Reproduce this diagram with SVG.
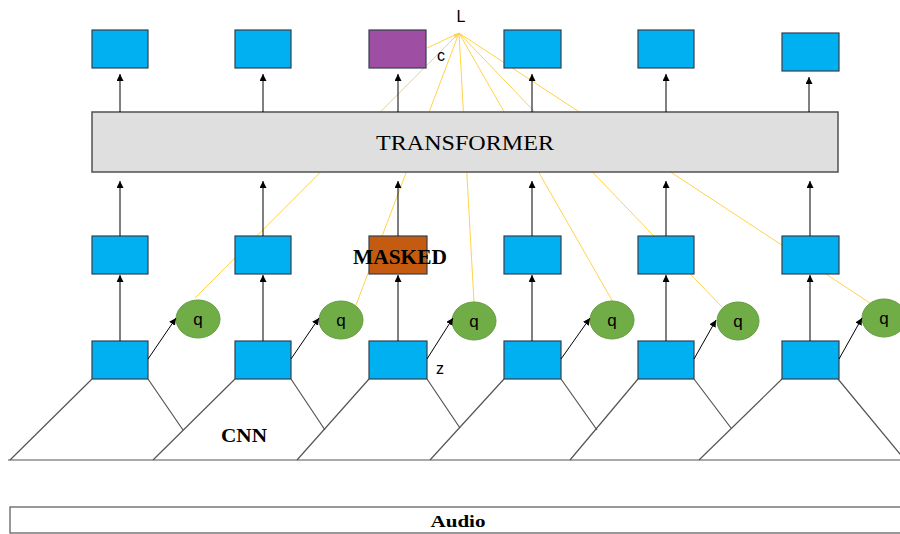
<svg xmlns="http://www.w3.org/2000/svg" width="900" height="534" viewBox="0 0 900 534">
<style>
.blue{fill:#00B0F0;stroke:#34404F;stroke-width:1.2}
.q{fill:#70AD47;stroke:#649B3F;stroke-width:1}
.yl{stroke:#FFD24D;stroke-width:1;fill:none}
.ar{stroke:#000;stroke-width:1;fill:none;marker-end:url(#ah)}
.gl{stroke:#555;stroke-width:1.2;fill:none}
.sans{font-family:"Liberation Sans",Arial,sans-serif;fill:#000}
.serif{font-family:"Liberation Serif","Times New Roman",serif;fill:#000}
.b{font-weight:bold}
</style>
<defs>
<marker id="ah" markerWidth="8" markerHeight="8" refX="7" refY="3.5" orient="auto" markerUnits="userSpaceOnUse">
<path d="M0,0 L7,3.5 L0,7 Z" fill="#000"/>
</marker>
</defs>
<rect width="900" height="534" fill="#fff"/>
<g id="connectors">
<g id="attention-lines">
<line class="yl" x1="459" y1="33" x2="427" y2="48"/>
<line class="yl" x1="459" y1="33" x2="195" y2="298"/>
<line class="yl" x1="459" y1="33" x2="356" y2="305"/>
<line class="yl" x1="459" y1="33" x2="474" y2="302"/>
<line class="yl" x1="459" y1="33" x2="613" y2="302"/>
<line class="yl" x1="459" y1="33" x2="722" y2="307"/>
<line class="yl" x1="459" y1="33" x2="870" y2="303"/>
<path d="M453,35 L459,33 L456,38 Z" fill="#FFD24D"/>
</g>
</g>
<g id="cnn">
<line class="gl" x1="8" y1="460" x2="900" y2="460"/>
<path class="gl" d="M92,379 L10,460 M148,379 L183,430"/>
<path class="gl" d="M235,379 L153,460 M291,379 L325,430"/>
<path class="gl" d="M369,379 L297,460 M427,379 L460,428"/>
<path class="gl" d="M504,379 L430,460 M561,379 L597,430"/>
<path class="gl" d="M638,379 L570,460 M694,379 L731,428"/>
<path class="gl" d="M782,379 L699,460 M838,379 L905,460"/>
<text class="serif b" x="244" y="442" font-size="18" text-anchor="middle" textLength="46" lengthAdjust="spacingAndGlyphs">CNN</text>
</g>
<g id="transformer">
<rect x="92" y="112" width="746" height="60" fill="#DFDFDF" stroke="#505050" stroke-width="1.5"/>
<text class="serif" x="465" y="150" font-size="21" text-anchor="middle" textLength="178" lengthAdjust="spacingAndGlyphs">TRANSFORMER</text>
</g>
<g id="top-outputs">
<rect id="out1" class="blue" x="92" y="30" width="56" height="38"/>
<rect id="out2" class="blue" x="235" y="30" width="56" height="38"/>
<rect id="out3" x="369" y="30" width="57" height="38" fill="#9F4FA3" stroke="#34404F" stroke-width="1.2"/>
<rect id="out4" class="blue" x="504" y="30" width="57" height="38"/>
<rect id="out5" class="blue" x="638" y="30" width="56" height="38"/>
<rect id="out6" class="blue" x="782" y="33" width="57" height="38"/>
</g>
<g id="middle-tokens">
<rect id="mid1" class="blue" x="92" y="236" width="56" height="38"/>
<rect id="mid2" class="blue" x="235" y="236" width="56" height="38"/>
<g id="masked">
<rect x="369" y="236" width="58" height="38" fill="#C55A11" stroke="#34404F" stroke-width="1.2"/>
<text class="serif b" x="400" y="264" font-size="20" text-anchor="middle" textLength="94" lengthAdjust="spacingAndGlyphs">MASKED</text>
</g>
<rect id="mid4" class="blue" x="504" y="236" width="57" height="38"/>
<rect id="mid5" class="blue" x="638" y="236" width="56" height="38"/>
<rect id="mid6" class="blue" x="782" y="236" width="57" height="38"/>
</g>
<g id="bottom-features">
<rect id="z1" class="blue" x="92" y="341" width="56" height="38"/>
<rect id="z2" class="blue" x="235" y="341" width="56" height="38"/>
<rect id="z3" class="blue" x="369" y="341" width="58" height="38"/>
<rect id="z4" class="blue" x="504" y="341" width="57" height="38"/>
<rect id="z5" class="blue" x="638" y="341" width="56" height="38"/>
<rect id="z6" class="blue" x="782" y="341" width="57" height="38"/>
</g>
<g id="quantizers">
<g id="q1"><ellipse class="q" cx="198" cy="319" rx="22" ry="19"/><text class="sans" x="198" y="325" font-size="17" text-anchor="middle">q</text></g>
<g id="q2"><ellipse class="q" cx="341" cy="320" rx="22" ry="19"/><text class="sans" x="341" y="326" font-size="17" text-anchor="middle">q</text></g>
<g id="q3"><ellipse class="q" cx="474" cy="321" rx="22" ry="19"/><text class="sans" x="474" y="327" font-size="17" text-anchor="middle">q</text></g>
<g id="q4"><ellipse class="q" cx="612" cy="320" rx="22" ry="19"/><text class="sans" x="612" y="326" font-size="17" text-anchor="middle">q</text></g>
<g id="q5"><ellipse class="q" cx="738" cy="321" rx="21" ry="19"/><text class="sans" x="738" y="327" font-size="17" text-anchor="middle">q</text></g>
<g id="q6"><ellipse class="q" cx="884" cy="318" rx="22" ry="19"/><text class="sans" x="884" y="324" font-size="17" text-anchor="middle">q</text></g>
</g>
<g id="arrows">
<line class="ar" x1="120" y1="112" x2="120" y2="74"/>
<line class="ar" x1="263" y1="112" x2="263" y2="74"/>
<line class="ar" x1="398" y1="112" x2="398" y2="74"/>
<line class="ar" x1="532" y1="112" x2="532" y2="74"/>
<line class="ar" x1="666" y1="112" x2="666" y2="74"/>
<line class="ar" x1="809" y1="112" x2="809" y2="77"/>
<line class="ar" x1="120" y1="236" x2="120" y2="181"/>
<line class="ar" x1="263" y1="236" x2="263" y2="181"/>
<line class="ar" x1="398" y1="236" x2="398" y2="181"/>
<line class="ar" x1="532" y1="236" x2="532" y2="181"/>
<line class="ar" x1="666" y1="236" x2="666" y2="181"/>
<line class="ar" x1="810" y1="236" x2="810" y2="181"/>
<line class="ar" x1="120" y1="341" x2="120" y2="275"/>
<line class="ar" x1="263" y1="341" x2="263" y2="275"/>
<line class="ar" x1="398" y1="341" x2="398" y2="275"/>
<line class="ar" x1="532" y1="341" x2="532" y2="275"/>
<line class="ar" x1="666" y1="341" x2="666" y2="275"/>
<line class="ar" x1="810" y1="341" x2="810" y2="275"/>
<line class="ar" x1="148" y1="359" x2="176" y2="318"/>
<line class="ar" x1="291" y1="359" x2="319" y2="318"/>
<line class="ar" x1="427" y1="359" x2="453" y2="318"/>
<line class="ar" x1="561" y1="359" x2="590" y2="318"/>
<line class="ar" x1="694" y1="359" x2="716" y2="320"/>
<line class="ar" x1="839" y1="359" x2="862" y2="318"/>
</g>
<g id="labels">
<text class="sans" x="461" y="22" font-size="16" text-anchor="middle">L</text>
<text class="sans" x="441" y="61" font-size="16" text-anchor="middle">c</text>
<text class="sans" x="440" y="374" font-size="16" text-anchor="middle">z</text>
</g>
<g id="audio">
<rect x="10" y="507" width="895" height="26" fill="#fff" stroke="#555" stroke-width="1.2"/>
<text class="serif b" x="458" y="527" font-size="17" text-anchor="middle" textLength="55" lengthAdjust="spacingAndGlyphs">Audio</text>
</g>
</svg>
